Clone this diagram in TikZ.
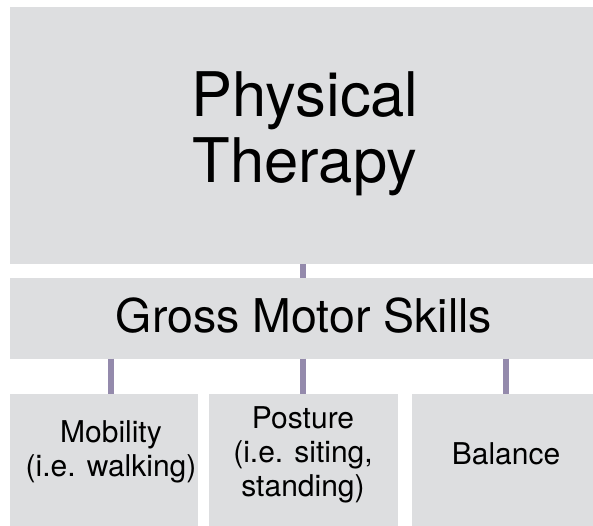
\documentclass[tikz,border=0pt]{standalone}
\usepackage{fontspec}
\setmainfont{TeX Gyre Heros}
\usepackage{xcolor}
\definecolor{boxgray}{RGB}{221,222,224}
\definecolor{linkpurple}{RGB}{148,138,172}

\begin{document}
\begin{tikzpicture}[x=1pt,y=-1pt,
                    skillBX/.style={rectangle,
                                    fill=boxgray,
                                    inner sep=0pt},
                    skillTX/.style={align=center,
                                    inner sep=0pt,
                                    text=black},
                    linkLN/.style={draw=linkpurple,
                                   line width=5.5pt}]
            \clip (0,0) rectangle (593,525);
            \fill[white] (0,0) rectangle (593,525);
            % boxes
            \node[skillBX, minimum width=590pt, minimum height=257pt](PT) at (305,135.5) {};
            \node[skillBX, minimum width=590pt, minimum height=80.5pt](GM) at (305,318.25) {};
            \node[skillBX, minimum width=188pt, minimum height=136pt](MO) at (104,462) {};
            \node[skillBX, minimum width=189pt, minimum height=136pt](PO) at (303.5,462) {};
            \node[skillBX, minimum width=188pt, minimum height=136pt](BA) at (506,462) {};
            % texts
            \node[skillTX, font=\fontsize{61.5}{66}\selectfont](PTtxt) at (305,134) {Physical\\Therapy};
            \node[skillTX, font=\fontsize{46.5}{52}\selectfont](GMtxt) at (304,315.5) {Gross Motor Skills};
            \node[skillTX, font=\fontsize{30}{34}\selectfont](MOtxt) at (111,451.5) {Mobility\\(i.e. walking)};
            \node[skillTX, font=\fontsize{30}{34}\selectfont](POtxt) at (303,454.5) {Posture\\(i.e. siting,\\standing)};
            \node[skillTX, font=\fontsize{30}{34}\selectfont](BAtxt) at (506,454) {Balance};
            % links
            \path
                (PT.south -| POtxt) edge [linkLN] (GM.north -| POtxt)
                (GM.south -| MOtxt) edge [linkLN] (MO.north -| MOtxt)
                (GM.south -| POtxt) edge [linkLN] (PO.north -| POtxt)
                (GM.south -| BAtxt) edge [linkLN] (BA.north -| BAtxt)
                ;
        \end{tikzpicture}
\end{document}
